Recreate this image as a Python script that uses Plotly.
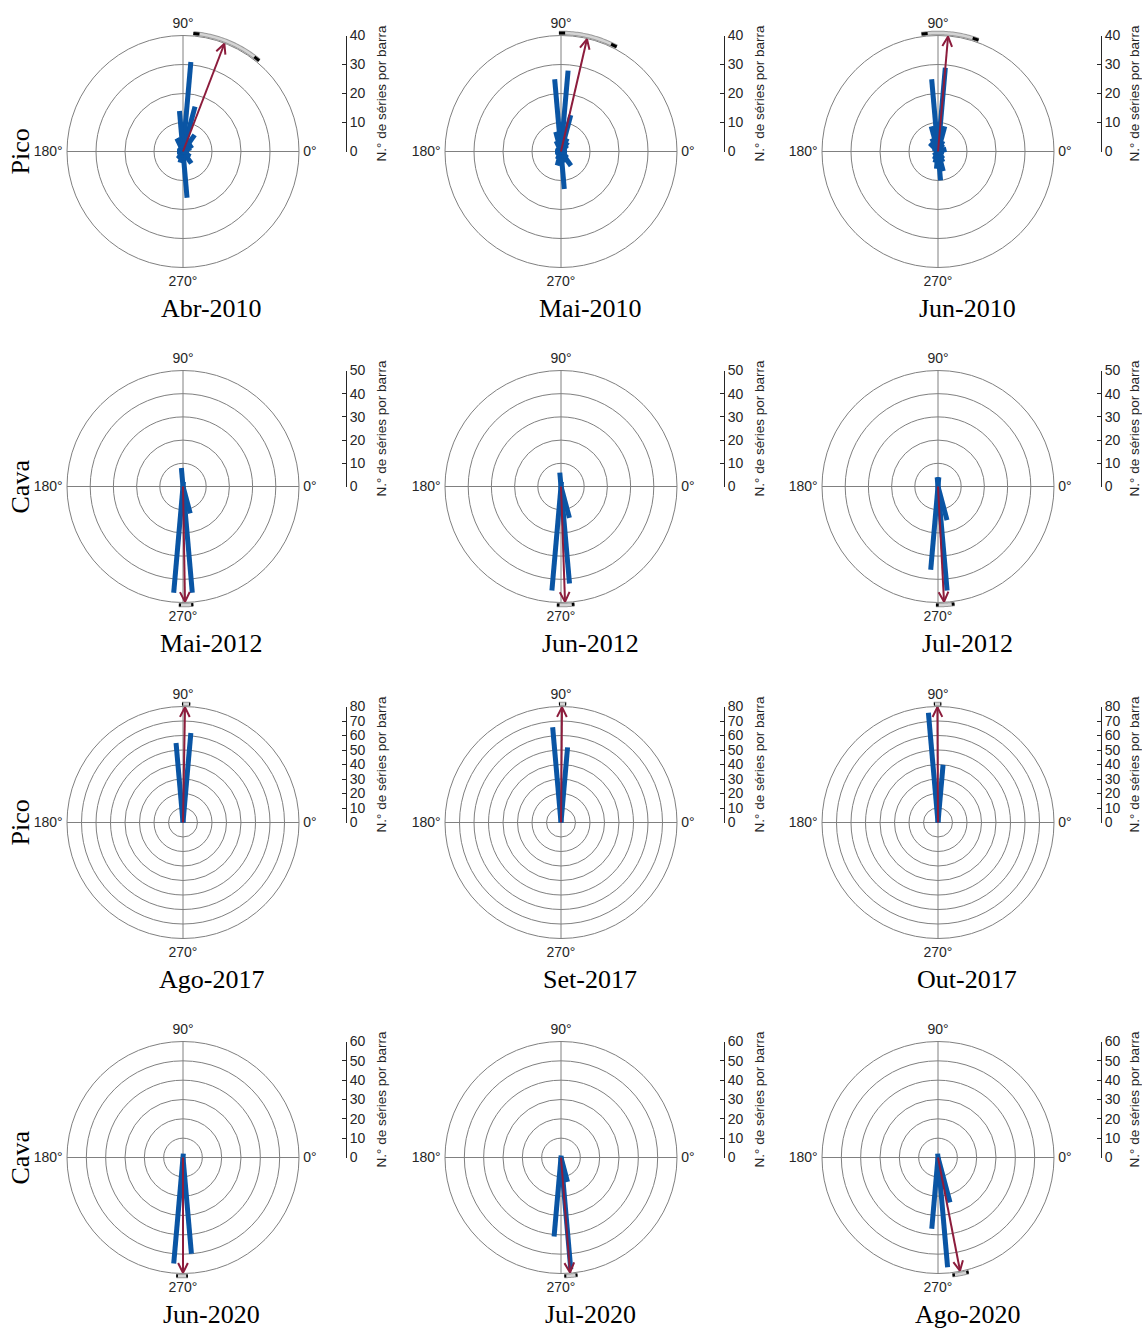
import math
import plotly.graph_objects as go

W, H = 1142, 1329

# ---------------- data ----------------
bin_centres = [5, 15, 25, 35, 45, 55, 65, 75, 85, 95, 105, 115, 125, 135, 145, 155, 165, 175,
               185, 195, 205, 215, 225, 235, 245, 255, 265, 275, 285, 295, 305, 315, 325, 335, 345, 355]

abr2010 = [2, 2, 3, 4, 3, 7, 4, 16, 31, 14, 5, 5, 2, 2, 1, 1, 1, 2,
           2, 1, 1, 2, 2, 3, 3, 4, 3, 16, 3, 3, 5, 3, 3, 1, 1, 2]
mai2010 = [2, 1, 2, 2, 3, 4, 5, 13, 28, 25, 7, 4, 2, 1, 1, 1, 1, 2,
           2, 1, 1, 1, 2, 2, 3, 5, 4, 13, 4, 3, 6, 3, 2, 1, 1, 2]
jun2010 = [2, 3, 2, 2, 2, 3, 4, 9, 29, 25, 9, 5, 4, 4, 2, 1, 1, 1,
           1, 1, 1, 1, 2, 2, 3, 4, 6, 10, 7, 4, 3, 2, 2, 1, 1, 2]
mai2012 = [0, 0, 0, 0, 0, 0, 0, 0, 2, 8, 0, 0, 0, 0, 0, 0, 0, 0,
           0, 0, 0, 0, 0, 0, 0, 0, 46, 46, 12, 0, 0, 0, 0, 0, 0, 0]
jun2012 = [0, 0, 0, 0, 0, 0, 0, 0, 2, 6, 0, 0, 0, 0, 0, 0, 0, 0,
           0, 0, 0, 0, 0, 0, 0, 0, 45, 42, 14, 0, 0, 0, 0, 0, 0, 0]
jul2012 = [0, 0, 0, 0, 0, 0, 0, 0, 4, 4, 0, 0, 0, 0, 0, 0, 0, 0,
           0, 0, 0, 0, 0, 0, 0, 0, 36, 45, 15, 0, 0, 0, 0, 0, 0, 0]
ago2017 = [0, 0, 0, 0, 0, 0, 0, 0, 62, 55, 0, 0, 0, 0, 0, 0, 0, 0,
           0, 0, 0, 0, 0, 0, 0, 0, 0, 0, 0, 0, 0, 0, 0, 0, 0, 0]
set2017 = [0, 0, 0, 0, 0, 0, 0, 0, 52, 66, 0, 0, 0, 0, 0, 0, 0, 0,
           0, 0, 0, 0, 0, 0, 0, 0, 0, 0, 0, 0, 0, 0, 0, 0, 0, 0]
out2017 = [0, 0, 0, 0, 0, 0, 0, 0, 40, 76, 0, 0, 0, 0, 0, 0, 0, 0,
           0, 0, 0, 0, 0, 0, 0, 0, 0, 0, 0, 0, 0, 0, 0, 0, 0, 0]
jun2020 = [0, 0, 0, 0, 0, 0, 0, 0, 2, 0, 0, 0, 0, 0, 0, 0, 0, 0,
           0, 0, 0, 0, 0, 0, 0, 0, 55, 50, 0, 0, 0, 0, 0, 0, 0, 0]
jul2020 = [0, 0, 0, 0, 0, 0, 0, 0, 1, 0, 0, 0, 0, 0, 0, 0, 0, 0,
           0, 0, 0, 0, 0, 0, 0, 0, 41, 58, 13, 0, 0, 0, 0, 0, 0, 0]
ago2020 = [0, 0, 0, 0, 0, 0, 0, 0, 0, 2, 0, 0, 0, 0, 0, 0, 0, 0,
           0, 0, 0, 0, 0, 0, 0, 0, 37, 57, 24, 0, 0, 0, 0, 0, 0, 0]

panel_counts = [abr2010, mai2010, jun2010, mai2012, jun2012, jul2012,
                ago2017, set2017, out2017, jun2020, jul2020, ago2020]
panel_titles = ["Abr-2010", "Mai-2010", "Jun-2010", "Mai-2012", "Jun-2012", "Jul-2012",
                "Ago-2017", "Set-2017", "Out-2017", "Jun-2020", "Jul-2020", "Ago-2020"]
mean_dir = [69, 77, 85, 271, 272, 273, 89, 89.5, 90.3, 270, 274.5, 281]
ci_low = [50, 62, 70, 268, 268, 269, 86.5, 87.5, 88.4, 266.7, 271.6, 277]
ci_high = [85, 91, 98, 275, 276.5, 278, 90.5, 91, 92, 272.4, 278, 285]

row_labels = ["Pico", "Cava", "Pico", "Cava"]
row_rmax = [40, 50, 80, 60]
row_ticks = [[0, 10, 20, 30, 40],
             [0, 10, 20, 30, 40, 50],
             [0, 10, 20, 30, 40, 50, 60, 70, 80],
             [0, 10, 20, 30, 40, 50, 60]]
angle_ticks = [0, 90, 180, 270]
angle_labels = ["0°", "90°", "180°", "270°"]
radial_title = "N.° de séries por barra"

# ---------------- styling / layout ----------------
BLUE = "#0a55a4"
RED = "#8c1c3c"
GRID = "#808080"
TXT = "#262626"
SANS = "Liberation Sans, Arial, sans-serif"
SERIF = "Liberation Serif, Times New Roman, serif"

col_cx = [183, 561, 938]
row_cy = [151.5, 486.5, 822.5, 1157.5]
R = 116
F = 1.06  # overlay scale so the confidence arc can sit just outside the rim

fig = go.Figure()
layout = dict(width=W, height=H, autosize=False,
              margin=dict(l=0, r=0, t=0, b=0, pad=0, autoexpand=False),
              paper_bgcolor="white", plot_bgcolor="white", showlegend=False)
annotations = []


def to_polar(x, y):
    return math.hypot(x, y), math.degrees(math.atan2(y, x))


for k in range(12):
    row, col = divmod(k, 3)
    cx, cy = col_cx[col], row_cy[row]
    rmax = row_rmax[row]
    pname = "polar" if k == 0 else f"polar{k + 1}"
    oname = f"polar{k + 13}"

    layout[pname] = dict(
        domain=dict(x=[(cx - R) / W, (cx + R) / W], y=[1 - (cy + R) / H, 1 - (cy - R) / H]),
        bgcolor="white",
        radialaxis=dict(range=[0, rmax], tickvals=row_ticks[row], showticklabels=False,
                        ticks="", showline=False, gridcolor=GRID, gridwidth=1,
                        layer="below traces"),
        angularaxis=dict(tickvals=angle_ticks, ticktext=angle_labels, direction="counterclockwise",
                         rotation=0, ticks="outside", ticklen=1, tickcolor="rgba(0,0,0,0)",
                         showline=True, linecolor=GRID, linewidth=1,
                         gridcolor=GRID, gridwidth=1, layer="below traces",
                         tickfont=dict(family=SANS, size=14, color=TXT)),
    )
    layout[oname] = dict(
        domain=dict(x=[(cx - F * R) / W, (cx + F * R) / W],
                    y=[1 - (cy + F * R) / H, 1 - (cy - F * R) / H]),
        bgcolor="rgba(0,0,0,0)",
        radialaxis=dict(range=[0, F * rmax], visible=False),
        angularaxis=dict(visible=False, direction="counterclockwise", rotation=0),
    )

    # rose bars (thick radial strokes)
    rr, tt = [], []
    for a, c in zip(bin_centres, panel_counts[k]):
        if c > 0:
            rr += [0, c, None]
            tt += [a, a, None]
    fig.add_trace(go.Scatterpolar(r=rr, theta=tt, mode="lines", subplot=pname,
                                  line=dict(color=BLUE, width=5), hoverinfo="skip"))

    # mean direction arrow
    m = mean_dir[k]
    L = rmax * 0.995
    fig.add_trace(go.Scatterpolar(r=[0, L], theta=[m, m], mode="lines", subplot=pname,
                                  line=dict(color=RED, width=2), hoverinfo="skip"))
    mr = math.radians(m)
    ux, uy = math.cos(mr), math.sin(mr)
    vx, vy = -uy, ux
    tx, ty = L * ux, L * uy
    hlen, hw = 0.085 * rmax, 0.042 * rmax
    bx, by = tx - hlen * ux, ty - hlen * uy
    p1 = to_polar(bx + hw * vx, by + hw * vy)
    p2 = to_polar(bx - hw * vx, by - hw * vy)
    fig.add_trace(go.Scatterpolar(r=[p1[0], L, p2[0]], theta=[p1[1], m, p2[1]], mode="lines",
                                  subplot=pname, line=dict(color=RED, width=2),
                                  hoverinfo="skip"))

    # confidence arc just outside the rim (overlay polar with the same scale)
    lo, hi = ci_low[k], ci_high[k]
    n = 40
    arc_t = [lo + (hi - lo) * i / (n - 1) for i in range(n)]
    r_arc = rmax * 1.022
    fig.add_trace(go.Scatterpolar(r=[r_arc] * n, theta=arc_t, mode="lines", subplot=oname,
                                  line=dict(color="#9a9a9a", width=4.5), hoverinfo="skip"))
    fig.add_trace(go.Scatterpolar(r=[r_arc] * n, theta=arc_t, mode="lines", subplot=oname,
                                  line=dict(color="#d4d4d4", width=2.5), hoverinfo="skip"))
    d = min(3.0, 0.15 * (hi - lo))
    fig.add_trace(go.Scatterpolar(r=[r_arc, r_arc, None, r_arc, r_arc],
                                  theta=[lo, lo + d, None, hi - d, hi], mode="lines",
                                  subplot=oname, line=dict(color="black", width=3),
                                  hoverinfo="skip"))

    # separate radial scale on the right
    xa = "xaxis" if k == 0 else f"xaxis{k + 1}"
    ya = "yaxis" if k == 0 else f"yaxis{k + 1}"
    xref = "x" if k == 0 else f"x{k + 1}"
    yref = "y" if k == 0 else f"y{k + 1}"
    lx = cx + 163
    layout[xa] = dict(domain=[(lx - 2) / W, lx / W], visible=False, range=[0, 1],
                      anchor=yref, automargin=False)
    layout[ya] = dict(domain=[1 - cy / H, 1 - (cy - R) / H], range=[0, rmax],
                      tickvals=row_ticks[row], anchor=xref, side="right",
                      showline=True, linecolor=TXT, linewidth=1, ticks="inside",
                      ticklen=4, tickcolor=TXT, showgrid=False, zeroline=False,
                      automargin=False,
                      tickfont=dict(family=SANS, size=14, color=TXT),
                      title=dict(text=radial_title, standoff=11,
                                 font=dict(family=SANS, size=13.5, color=TXT)))
    fig.add_trace(go.Scatter(x=[0.5], y=[0], xaxis=xref, yaxis=yref, mode="markers",
                             marker=dict(opacity=0), hoverinfo="skip"))

    # panel title
    annotations.append(dict(text=panel_titles[k], x=(cx + 29) / W, y=1 - (cy + 157) / H,
                            xref="paper", yref="paper", showarrow=False,
                            xanchor="center", yanchor="middle",
                            font=dict(family=SERIF, size=26, color="black")))

for row in range(4):
    annotations.append(dict(text=row_labels[row], x=20 / W, y=1 - row_cy[row] / H,
                            xref="paper", yref="paper", showarrow=False, textangle=-90,
                            xanchor="center", yanchor="middle",
                            font=dict(family=SERIF, size=26, color="black")))

layout["annotations"] = annotations
fig.update_layout(**layout)

fig.write_html("out.html", config={"displayModeBar": False},
               post_script="document.body.style.margin='0';")
